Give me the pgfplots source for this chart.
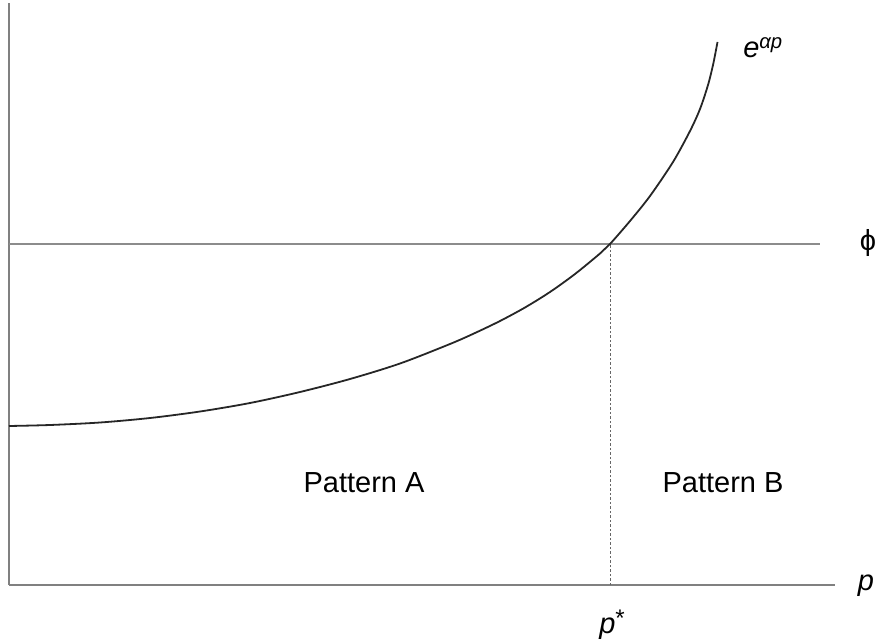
\documentclass[border=0pt]{standalone}
\usepackage{pgfplots}
\pgfplotsset{compat=1.18}
\usepackage{fontspec}
\setmainfont{Liberation Sans}
\begin{document}
\begin{tikzpicture}
\begin{axis}[
  scale only axis, width=826pt, height=582pt,
  xmin=9, xmax=835, ymin=0, ymax=582,
  axis lines=left, axis line style={-, line width=2pt, color=black!50},
  xtick=\empty, ytick=\empty,
  clip=false,
]
\addplot[line width=1.8pt, color=black!45] coordinates {(9,341) (820,341)};
\addplot[line width=1pt, color=black!60, dash pattern=on 2.5pt off 2pt] coordinates {(610,0) (610,341)};
\addplot[smooth, line width=1.8pt, color=black!85] coordinates {
(9,159) (50,160) (100,162.5) (150,167) (200,173.5) (250,182) (300,193) (350,206)
(400,221.5) (450,241) (475,252) (500,264) (525,277.5) (550,293) (575,311) (600,331.5)
(610,341) (630,364) (650,389)
(673,423) (690,454) (700,476) (708,500) (713,520) (716,535) (717.5,543)};
\node[font=\fontsize{29}{34}\selectfont] at (axis cs:763,537) {\textit{e}\textsuperscript{\textit{αp}}};
\node[font=\fontsize{29}{34}\selectfont] at (axis cs:868,342) {ϕ};
\node[font=\fontsize{29}{34}\selectfont] at (axis cs:866,-1) {\textit{p}};
\node[font=\fontsize{29}{34}\selectfont] at (axis cs:612,-40) {\textit{p}\raisebox{0.25em}{\fontsize{24}{28}\selectfont*}};
\node[font=\fontsize{29}{34}\selectfont, anchor=base] at (axis cs:364,93) {Pattern A};
\node[font=\fontsize{29}{34}\selectfont, anchor=base] at (axis cs:723,93) {Pattern B};
\coordinate (bl) at (axis cs:0,-56);
\coordinate (tr) at (axis cs:878,585);
\end{axis}
\pgfresetboundingbox
\path[use as bounding box] (bl) rectangle (tr);
\end{tikzpicture}
\end{document}
